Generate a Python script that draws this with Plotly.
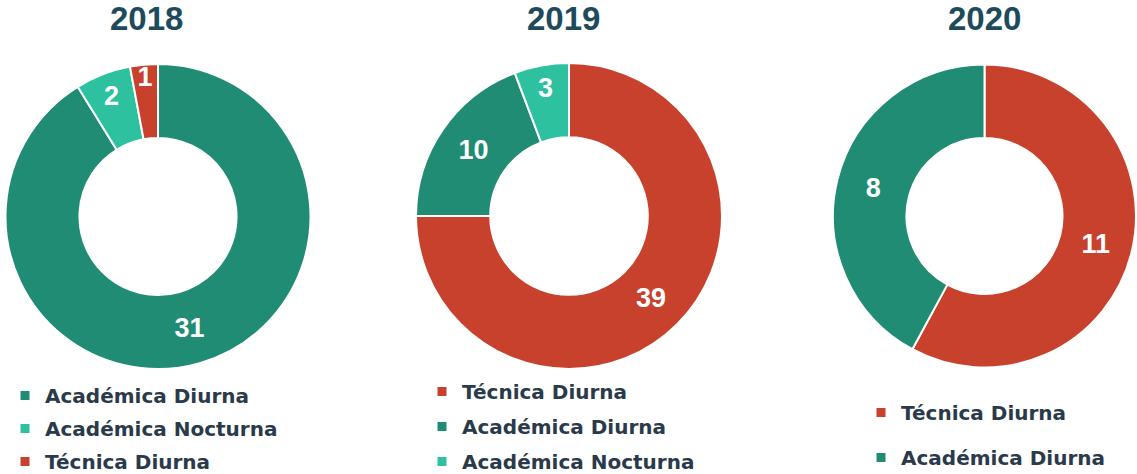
import plotly.graph_objects as go

# ---- data ----
years = ["2018", "2019", "2020"]
labels_2018 = ["Académica Diurna", "Académica Nocturna", "Técnica Diurna"]
values_2018 = [31, 2, 1]
labels_2019 = ["Técnica Diurna", "Académica Diurna", "Académica Nocturna"]
values_2019 = [39, 10, 3]
labels_2020 = ["Técnica Diurna", "Académica Diurna"]
values_2020 = [11, 8]

color_map = {
    "Académica Diurna": "#1F8C73",
    "Académica Nocturna": "#2EC19F",
    "Técnica Diurna": "#C8412D",
}

W, H = 1137, 474

# pixel boxes of each donut (left, right, top, bottom)
boxes = [(5, 311, 64, 369), (416, 722, 63, 369), (833, 1136, 64, 368)]
title_x = [146, 563, 984]
legend_pos = [(5, 376, 4), (422, 372, 6), (861, 393, 16)]  # left px, top px, group gap

datasets = [(labels_2018, values_2018), (labels_2019, values_2019), (labels_2020, values_2020)]

fig = go.Figure()
for i, ((labs, vals), (l, r, t, b)) in enumerate(zip(datasets, boxes)):
    fig.add_trace(go.Pie(
        labels=labs, values=vals, sort=False, direction="clockwise", rotation=0,
        hole=0.515,
        marker=dict(colors=[color_map[x] for x in labs], line=dict(color="white", width=2)),
        textinfo="value", textposition="inside", insidetextorientation="horizontal",
        textfont=dict(family="Liberation Sans, Arial", size=27, color="white"),
        texttemplate="<b>%{value}</b>",
        domain=dict(x=[l / W, r / W], y=[1 - b / H, 1 - t / H]),
        showlegend=False, name=years[i],
    ))
    legname = "legend" if i == 0 else f"legend{i+1}"
    for lab in labs:
        fig.add_trace(go.Scatter(
            x=[None], y=[None], mode="markers",
            marker=dict(symbol="square", size=9, color=color_map[lab]),
            name=lab, legendgroup=f"{years[i]}-{lab}", legend=legname, showlegend=True,
            hoverinfo="skip",
        ))

legend_font = dict(family="DejaVu Sans", size=20, color="#2A3A4B", weight="bold")
layout_legends = {}
for i, (lx, ly, gap) in enumerate(legend_pos):
    key = "legend" if i == 0 else f"legend{i+1}"
    layout_legends[key] = dict(
        x=lx / W, y=1 - ly / H, xanchor="left", yanchor="top",
        bgcolor="rgba(0,0,0,0)", font=legend_font, traceorder="grouped",
        tracegroupgap=gap, itemclick=False, itemdoubleclick=False,
    )

annotations = [
    dict(text=f"<b>{y}</b>", x=tx / W, y=1 - 18.5 / H, xref="paper", yref="paper",
         xanchor="center", yanchor="middle", showarrow=False,
         font=dict(family="Liberation Sans, Arial", size=33, color="#1E4B5C"))
    for y, tx in zip(years, title_x)
]

fig.update_layout(
    width=W, height=H, margin=dict(l=0, r=0, t=0, b=0, autoexpand=False),
    paper_bgcolor="white", plot_bgcolor="white",
    uniformtext=dict(minsize=27, mode="show"),
    annotations=annotations,
    xaxis=dict(visible=False), yaxis=dict(visible=False),
    **layout_legends,
)

fig.write_html(
    "out.html",
    config={"displayModeBar": False},
    post_script="document.body.style.margin='0';document.body.style.overflow='hidden';",
)
